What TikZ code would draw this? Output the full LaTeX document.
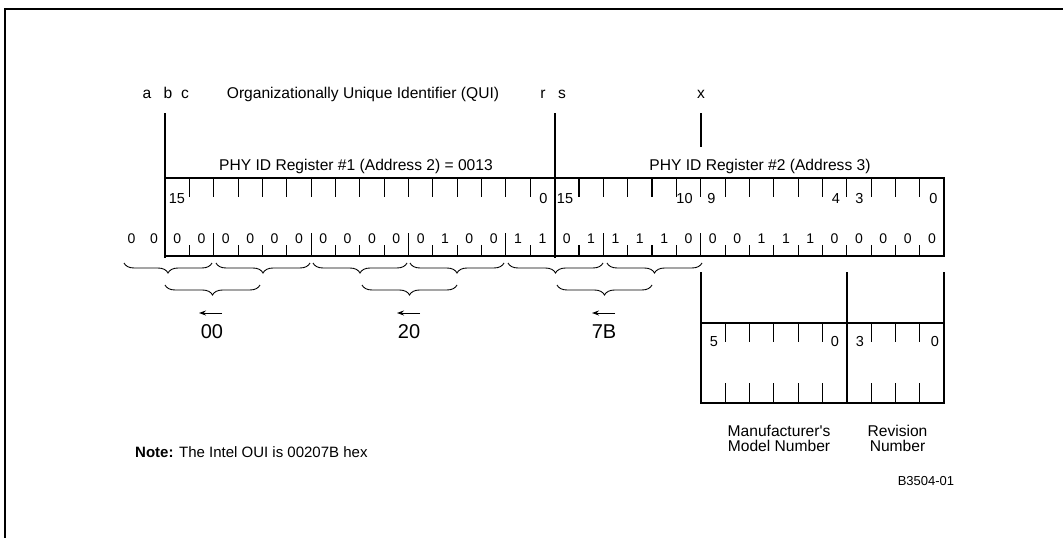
\documentclass[tikz,border=0pt]{standalone}
\usepackage{fontspec}
\setmainfont{Liberation Sans}[Ligatures=TeXOff]
\usetikzlibrary{decorations.pathreplacing,arrows.meta}
\begin{document}
\begin{tikzpicture}[x=1pt,y=-1pt,
  heavy/.style={line width=1.8pt},
  tickline/.style={line width=1.1pt},
  lbl/.style={font=\fontsize{15.6}{17}\selectfont, inner sep=0pt, anchor=base},
  bitnum/.style={font=\fontsize{14.5}{16}\selectfont, inner sep=0pt, anchor=base},
  bitval/.style={font=\fontsize{14}{16}\selectfont, inner sep=0pt, anchor=base},
  hexlbl/.style={font=\fontsize{20}{22}\selectfont, inner sep=0pt, anchor=base},
  small/.style={font=\fontsize{13}{15}\selectfont, inner sep=0pt, anchor=base},
  brc/.style={decorate, decoration={brace, mirror, amplitude=10pt}, line width=0.9pt},
  arr/.style={-{Stealth[length=7pt,width=5pt]}, line width=1pt},
  ]
\useasboundingbox (0,0) rectangle (1063,538);
% frame
\draw[line width=1.7pt] (5,538) -- (5,9) -- (1063,9);

\def\W{24.35}
% top labels
\node[lbl] (la) at (147,98) {a};
\node[lbl] (lb) at (168,98) {b};
\node[lbl] (lc) at (185,98) {c};
\node[lbl] (oui) at (363,98) {Organizationally Unique Identifier (QUI)};
\node[lbl] (lr) at (543,98) {r};
\node[lbl] (ls) at (562,98) {s};
\node[lbl] (lx) at (701,98) {x};
\node[lbl] (r1t) at (356,170) {PHY ID Register \#1 (Address 2) = 0013};
\node[lbl] (r2t) at (760,170) {PHY ID Register \#2 (Address 3)};

% register box
\draw[heavy] (165,178) rectangle (944.2,256);
\draw[heavy] (165,113) -- (165,258);
\draw[heavy] (554.6,113) -- (554.6,258);
\draw[heavy] (700.7,113) -- (700.7,147);
% ticks
\foreach \i in {1,...,15,17,18,...,31}{
  \draw[tickline] ({165+\i*\W},178) -- ++(0,19);
}
\foreach \i in {1,3,4,5,7,8,9,11,12,13,15,17,19,20,21,23,24,...,31}{
  \draw[tickline] ({165+\i*\W},245) -- (165+\i*\W,256);
}
\foreach \i in {2,6,10,14,18,22}{
  \draw[tickline] ({165+\i*\W},233) -- (165+\i*\W,256);
}
% bit numbers
\node[bitnum] (n15a) at (177,203) {15};
\node[bitnum] (n0a) at (543.5,203) {0};
\node[bitnum] (n15b) at (565,203) {15};
\node[bitnum] (n10b) at (684.5,203) {10};
\node[bitnum] (n9b) at (711.5,203) {9};
\node[bitnum] (n4b) at (836,203) {4};
\node[bitnum] (n3b) at (859.5,203) {3};
\node[bitnum] (n0b) at (933.5,203) {0};
% bit values
\node[bitval] (ox1) at (131.5,243) {0};
\node[bitval] (ox2) at (154,243) {0};
\foreach \v [count=\i from 0] in {0,0,0,0,0,0,0,0,0,0,0,1,0,0,1,1,0,1,1,1,1,0,0,0,1,1,1,0,0,0,0,0}{
  \node[bitval] (v\i) at ({165+(\i+0.5)*\W},243) {\v};
}
% first row braces
\coordinate (b1s) at (124,263); \coordinate (b1e) at (212,263);
\coordinate (b2s) at (216,263); \coordinate (b2e) at (310,263);
\coordinate (b3s) at (313,263); \coordinate (b3e) at (407,263);
\coordinate (b4s) at (410,263); \coordinate (b4e) at (504,263);
\coordinate (b5s) at (508,263); \coordinate (b5e) at (603,263);
\coordinate (b6s) at (607,263); \coordinate (b6e) at (702,263);
\foreach \k in {1,...,6}{ \draw[brc] (b\k s) -- (b\k e); }
% second row braces
\coordinate (c1s) at (165,285); \coordinate (c1e) at (260,285);
\coordinate (c2s) at (362,285); \coordinate (c2e) at (457,285);
\coordinate (c3s) at (557,285); \coordinate (c3e) at (652,285);
\foreach \k in {1,2,3}{ \draw[brc] (c\k s) -- (c\k e); }
% arrows
\coordinate (a1s) at (222,313); \coordinate (a1e) at (199,313);
\coordinate (a2s) at (420,313); \coordinate (a2e) at (397,313);
\coordinate (a3s) at (615,313); \coordinate (a3e) at (592,313);
\foreach \k in {1,2,3}{ \draw[arr] (a\k s) -- (a\k e); }
\node[hexlbl] (h1) at (212,338) {00};
\node[hexlbl] (h2) at (409,338) {20};
\node[hexlbl] (h3) at (604,338) {7B};

% lower box
\draw[heavy] (700.7,323) rectangle (944.2,403);
\draw[heavy] (700.7,272) -- (700.7,403);
\draw[heavy] (846.8,272) -- (846.8,403);
\draw[heavy] (944.2,272) -- (944.2,403);
\foreach \i in {23,24,25,26,27,29,30,31}{
  \draw[tickline] ({165+\i*\W},323) -- ++(0,19);
  \draw[tickline] ({165+\i*\W},383) -- (165+\i*\W,403);
}
\node[bitnum] (m5) at (714,346) {5};
\node[bitnum] (m0) at (835,346) {0};
\node[bitnum] (r3) at (860,346) {3};
\node[bitnum] (r0) at (935,346) {0};
\node[lbl] (mm1) at (779,436) {Manufacturer's};
\node[lbl] (mm2) at (779,451) {Model Number};
\node[lbl] (rv1) at (897.5,436) {Revision};
\node[lbl] (rv2) at (897.5,451) {Number};
\node[small] (fig) at (926,485) {B3504-01};
\node[lbl, font=\fontsize{15}{17}\selectfont, anchor=base west] (note) at (135,457) {\textbf{Note:} The Intel OUI is 00207B hex};
\end{tikzpicture}
\end{document}
